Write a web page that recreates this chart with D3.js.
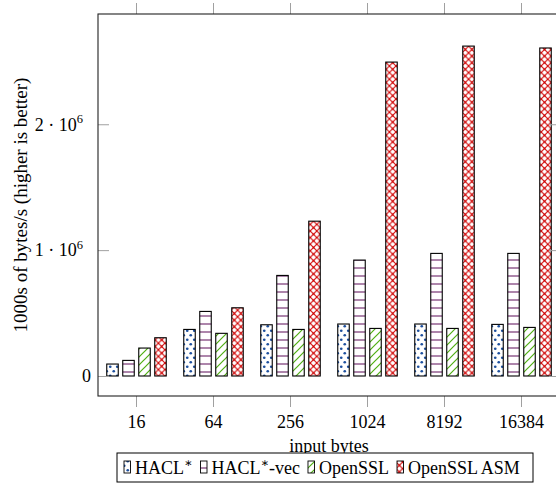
<!DOCTYPE html>
<html>
<head>
<meta charset="utf-8">
<script src="https://cdn.jsdelivr.net/npm/d3@7"></script>
<style>
html,body{margin:0;padding:0;background:#fff;}
svg{display:block;}
text{font-family:"Liberation Serif","DejaVu Serif",serif;fill:#000;}
</style>
</head>
<body>
<svg id="chart" width="556" height="492"></svg>
<script>
// ---- data ----
const categories = ["16", "64", "256", "1024", "8192", "16384"];
const seriesNames = ["HACL*", "HACL*-vec", "OpenSSL", "OpenSSL ASM"];
const haclValues = [95000, 370000, 407000, 413000, 413000, 410000];
const haclVecValues = [124000, 513000, 799000, 921000, 974000, 974000];
const opensslValues = [222000, 339000, 370000, 378000, 378000, 386000];
const opensslAsmValues = [304000, 542000, 1230000, 2494000, 2621000, 2606000];
const yTickValues = [0, 1000000, 2000000];
const yTickMantissa = ["0", "1", "2"];

const seriesValues = [haclValues, haclVecValues, opensslValues, opensslAsmValues];
const patternIds = ["pDots", "pHLines", "pNELines", "pCross"];

// ---- layout ----
const L = 98, R = 560, T = 14, B = 396;
const FS = 18;
const svg = d3.select("#chart");

// patterns
const defs = svg.append("defs");
{
  const p = defs.append("pattern").attr("id", "pDots").attr("patternUnits", "userSpaceOnUse")
    .attr("width", 7).attr("height", 9);
  p.append("rect").attr("width", 7).attr("height", 9).attr("fill", "#fff");
  p.append("circle").attr("cx", 1.75).attr("cy", 2.25).attr("r", 1.35).attr("fill", "#1d4f9e");
  p.append("circle").attr("cx", 5.25).attr("cy", 6.75).attr("r", 1.35).attr("fill", "#1d4f9e");
}
{
  const p = defs.append("pattern").attr("id", "pHLines").attr("patternUnits", "userSpaceOnUse")
    .attr("width", 8).attr("height", 8);
  p.append("rect").attr("width", 8).attr("height", 8).attr("fill", "#fff");
  p.append("line").attr("x1", 0).attr("x2", 8).attr("y1", 4).attr("y2", 4)
    .attr("stroke", "#6a2066").attr("stroke-width", 1.1);
}
{
  const p = defs.append("pattern").attr("id", "pNELines").attr("patternUnits", "userSpaceOnUse")
    .attr("width", 8).attr("height", 8);
  p.append("rect").attr("width", 8).attr("height", 8).attr("fill", "#fff");
  p.append("path").attr("d", "M-1,9 L9,-1 M-1,1 L1,-1 M7,9 L9,7")
    .attr("stroke", "#4fae12").attr("stroke-width", 1.2);
}
{
  const p = defs.append("pattern").attr("id", "pCross").attr("patternUnits", "userSpaceOnUse")
    .attr("width", 6.6).attr("height", 6.6);
  p.append("rect").attr("width", 6.6).attr("height", 6.6).attr("fill", "#fff");
  p.append("path").attr("d", "M0,0 L6.6,6.6 M0,6.6 L6.6,0")
    .attr("stroke", "#d00000").attr("stroke-width", 1.1);
  p.append("circle").attr("cx", 3.3).attr("cy", 3.3).attr("r", 0.9).attr("fill", "#d00000");
}

// scales
const x = d3.scaleBand().domain(categories).range([L, R]).paddingInner(0).paddingOuter(0);
const inner = d3.scaleBand().domain(seriesNames).range([-32, 32]);
const barW = 11.5;
const y = d3.scaleLinear().domain([-158900, 2876000]).range([B, T]);

// bars
const barsG = svg.append("g");
seriesNames.forEach((s, si) => {
  barsG.selectAll(null).data(categories).enter().append("rect")
    .attr("x", c => x(c) + x.bandwidth() / 2 + inner(s) + (inner.bandwidth() - barW) / 2)
    .attr("y", (c, i) => y(seriesValues[si][i]))
    .attr("width", barW)
    .attr("height", (c, i) => y(0) - y(seriesValues[si][i]))
    .attr("fill", `url(#${patternIds[si]})`)
    .attr("stroke", "#000").attr("stroke-width", 1.1);
});

// axes (ticks)
const tickColor = "#a0a0a0";
const xBottom = d3.axisBottom(x).tickSize(11).tickSizeOuter(0).tickPadding(6);
const gxb = svg.append("g").attr("transform", `translate(0,${B})`).call(xBottom);
gxb.select(".domain").remove();
gxb.selectAll(".tick line").attr("stroke", tickColor);
gxb.selectAll(".tick text").attr("font-size", FS).attr("font-family", "Liberation Serif, serif").attr("dy", "0.85em");

const xTop = d3.axisTop(x).tickSize(11).tickSizeOuter(0).tickFormat("");
const gxt = svg.append("g").attr("transform", `translate(0,${T})`).call(xTop);
gxt.select(".domain").remove();
gxt.selectAll(".tick line").attr("stroke", tickColor);

// y ticks inward on both sides
const yLeft = d3.axisRight(y).tickValues(yTickValues).tickSize(11).tickFormat("");
const gyl = svg.append("g").attr("transform", `translate(${L},0)`).call(yLeft);
gyl.select(".domain").remove();
gyl.selectAll(".tick line").attr("stroke", tickColor);
const yRight = d3.axisLeft(y).tickValues(yTickValues).tickSize(11).tickFormat("");
const gyr = svg.append("g").attr("transform", `translate(${R},0)`).call(yRight);
gyr.select(".domain").remove();
gyr.selectAll(".tick line").attr("stroke", tickColor);

// y tick labels
yTickValues.forEach((v, i) => {
  const t = svg.append("text").attr("font-size", FS).attr("text-anchor", "end")
    .attr("y", y(v)).attr("dy", "0.35em");
  if (v === 0) {
    t.attr("x", 91).text(yTickMantissa[i]);
  } else {
    t.attr("x", 83);
    t.append("tspan").text(yTickMantissa[i] + " \u00B7 10");
    t.append("tspan").attr("font-size", 12.5).attr("dy", "-0.62em").text("6");
  }
});

// frame
svg.append("rect").attr("x", L).attr("y", T).attr("width", R - L).attr("height", B - T)
  .attr("fill", "none").attr("stroke", "#222").attr("stroke-width", 1.1);

// y label
svg.append("text").attr("transform", `translate(27,${(T + B) / 2}) rotate(-90)`)
  .attr("text-anchor", "middle").attr("font-size", 19)
  .text("1000s of bytes/s (higher is better)");

// x label
svg.append("text").attr("x", (L + R) / 2).attr("y", 452).attr("text-anchor", "middle")
  .attr("font-size", FS).text("input bytes");

// legend
const lg = svg.append("g");
lg.append("rect").attr("x", 117).attr("y", 453).attr("width", 416).attr("height", 29)
  .attr("fill", "#fff").attr("stroke", "#000").attr("stroke-width", 1);
let lx = 124;
seriesNames.forEach((s, si) => {
  lg.append("rect").attr("x", lx).attr("y", 461).attr("width", 6.5).attr("height", 12)
    .attr("fill", `url(#${patternIds[si]})`).attr("stroke", "#000").attr("stroke-width", 0.9);
  const t = lg.append("text").attr("x", lx + 11).attr("y", 474).attr("font-size", 18);
  const parts = s.split("*");
  t.append("tspan").text(parts[0]);
  if (parts.length > 1) {
    t.append("tspan").attr("font-size", 12.5).attr("dy", "-0.55em").text("\u2217");
    if (parts[1]) t.append("tspan").attr("dy", "0.38em").text(parts[1]);
  }
  lx += 11 + t.node().getComputedTextLength() + 8;
});
</script>
</body>
</html>
